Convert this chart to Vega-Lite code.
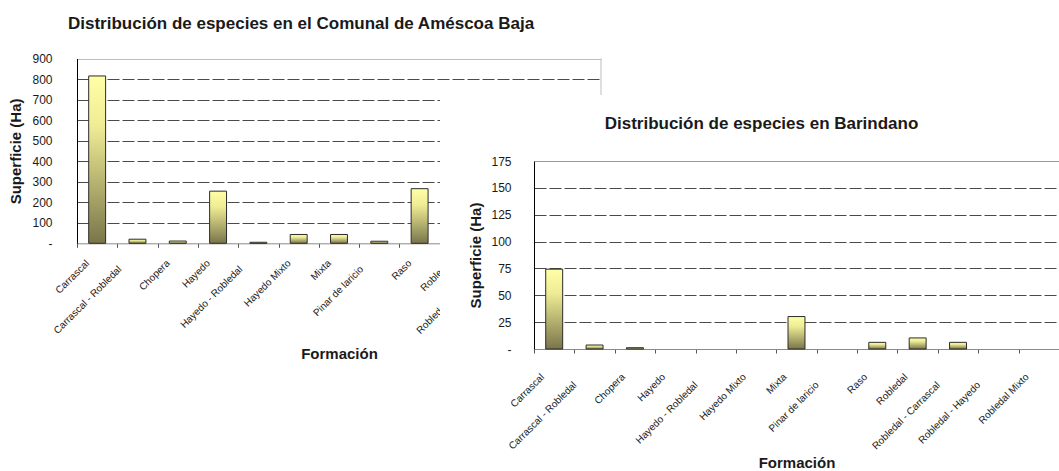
{
  "$schema": "https://vega.github.io/schema/vega-lite/v6.json",
  "background": "white",
  "padding": {"left": 8, "top": 14, "right": 0, "bottom": 0},
  "autosize": {"type": "pad"},
  "spacing": 0,
  "bounds": "flush",
  "config": {
    "font": "Liberation Sans",
    "axis": {"labelFont": "Liberation Sans", "titleFont": "Liberation Sans", "labelColor": "#1a1a1a", "titleColor": "#1a1a1a", "titleFontWeight": "bold", "titleFontSize": 15, "labelFontSize": 10, "labelOverlap": false},
    "title": {"font": "Liberation Sans", "fontWeight": "bold", "fontSize": 17, "color": "#1a1a1a"}
  },
  "datasets": {
    "amescoa": [
      {"formacion": "Carrascal", "superficie": 815},
      {"formacion": "Carrascal - Robledal", "superficie": 20},
      {"formacion": "Chopera", "superficie": 11},
      {"formacion": "Hayedo", "superficie": 254},
      {"formacion": "Hayedo - Robledal", "superficie": 5},
      {"formacion": "Hayedo Mixto", "superficie": 43},
      {"formacion": "Mixta", "superficie": 43},
      {"formacion": "Pinar de laricio", "superficie": 10},
      {"formacion": "Raso", "superficie": 266}
    ],
    "barindano": [
      {"formacion": "Carrascal", "superficie": 74.3},
      {"formacion": "Carrascal - Robledal", "superficie": 3.7},
      {"formacion": "Chopera", "superficie": 1.2},
      {"formacion": "Mixta", "superficie": 30.2},
      {"formacion": "Raso", "superficie": 6.2},
      {"formacion": "Robledal", "superficie": 10.3},
      {"formacion": "Robledal - Carrascal", "superficie": 6.2}
    ]
  },
  "hconcat": [
    {
      "title": {"text": "Distribución de especies en el Comunal de Améscoa Baja", "anchor": "start", "frame": "group", "dx": -9, "offset": 20},
      "width": 363,
      "height": 148.3,
      "view": {"stroke": null, "fill": null},
      "layer": [
        {
          "data": {"name": "amescoa"},
          "mark": {
            "type": "bar",
            "width": {"band": 0.42},
            "fill": {"gradient": "linear", "x1": 0, "y1": 0, "x2": 0, "y2": 1, "stops": [{"offset": 0, "color": "#ffffa6"}, {"offset": 0.3, "color": "#eeec95"}, {"offset": 1, "color": "#7a754a"}]},
            "stroke": "#2b2b2b",
            "strokeWidth": 1
          },
          "encoding": {
            "x": {
              "field": "formacion", "type": "nominal", "sort": null,
              "scale": {"domain": ["Carrascal", "Carrascal - Robledal", "Chopera", "Hayedo", "Hayedo - Robledal", "Hayedo Mixto", "Mixta", "Pinar de laricio", "Raso", "Robledal", "Robledal - Carrascal", "Robledal - Hayedo", "Robledal Mixto"], "range": [0, 524], "paddingInner": 0, "paddingOuter": 0},
              "axis": {"title": "Formación", "labelAngle": -45, "labelAlign": "right", "labelBaseline": "middle", "tickBand": "extent", "ticks": true, "tickSize": 4, "tickColor": "#555", "domainColor": "#8a8a8a",
                "labelPadding": {"condition": {"test": "length(datum.label) > 14", "value": 20}, "value": 14},
                "labelOffset": {"condition": {"test": "length(datum.label) > 14", "value": -18}, "value": -10},
                "titlePadding": 11, "grid": false}
            },
            "y": {
              "field": "superficie", "type": "quantitative",
              "scale": {"domain": [0, 900], "range": [148.3, -36.5]},
              "axis": {"title": "Superficie (Ha)", "values": [0, 100, 200, 300, 400, 500, 600, 700, 800, 900], "labelExpr": "datum.value == 0 ? '-' : datum.label", "labelFontSize": 12, "ticks": false, "domainColor": "#000", "labelPadding": 25, "titlePadding": 8, "grid": true,
                "gridColor": {"condition": {"test": "datum.value >= 900", "value": "#bdbdbd"}, "value": "#4a4a4a"},
                "gridDash": {"condition": {"test": "datum.value >= 900", "value": []}, "value": [12, 3]},
                "gridOpacity": {"condition": {"test": "datum.value == 0", "value": 0}, "value": 1}}
            }
          }
        },
        {
          "data": {"values": [{}]},
          "mark": {"type": "rule", "color": "#bdbdbd", "strokeWidth": 1},
          "encoding": {
            "x": {"datum": "Robledal Mixto", "type": "nominal", "bandPosition": 1,
              "scale": {"domain": ["Carrascal", "Carrascal - Robledal", "Chopera", "Hayedo", "Hayedo - Robledal", "Hayedo Mixto", "Mixta", "Pinar de laricio", "Raso", "Robledal", "Robledal - Carrascal", "Robledal - Hayedo", "Robledal Mixto"], "range": [0, 524], "paddingInner": 0, "paddingOuter": 0},
              "axis": {"title": "Formación", "labelAngle": -45, "labelAlign": "right", "labelBaseline": "middle", "tickBand": "extent", "ticks": true, "tickSize": 4, "tickColor": "#555", "domainColor": "#8a8a8a",
                "labelPadding": {"condition": {"test": "length(datum.label) > 14", "value": 20}, "value": 14},
                "labelOffset": {"condition": {"test": "length(datum.label) > 14", "value": -18}, "value": -10},
                "titlePadding": 11, "grid": false}
            },
            "y": {"datum": 900, "type": "quantitative",
              "scale": {"domain": [0, 900], "range": [148.3, -36.5]},
              "axis": {"title": "Superficie (Ha)", "values": [0, 100, 200, 300, 400, 500, 600, 700, 800, 900], "labelExpr": "datum.value == 0 ? '-' : datum.label", "labelFontSize": 12, "ticks": false, "domainColor": "#000", "labelPadding": 25, "titlePadding": 8, "grid": true,
                "gridColor": {"condition": {"test": "datum.value >= 900", "value": "#bdbdbd"}, "value": "#4a4a4a"},
                "gridDash": {"condition": {"test": "datum.value >= 900", "value": []}, "value": [12, 3]},
                "gridOpacity": {"condition": {"test": "datum.value == 0", "value": 0}, "value": 1}}
            },
            "y2": {"datum": 0}
          }
        }
      ]
    },
    {
      "title": {"text": "Distribución de especies en Barindano", "offset": -37.5, "dx": 12, "anchor": "middle", "frame": "group"},
      "width": 619,
      "height": 376,
      "view": {"fill": "white", "stroke": null},
      "data": {"name": "barindano"},
      "mark": {
        "type": "bar",
        "width": {"band": 0.42},
        "fill": {"gradient": "linear", "x1": 0, "y1": 0, "x2": 0, "y2": 1, "stops": [{"offset": 0, "color": "#ffffa6"}, {"offset": 0.3, "color": "#eeec95"}, {"offset": 1, "color": "#7a754a"}]},
        "stroke": "#2b2b2b",
        "strokeWidth": 1
      },
      "encoding": {
        "x": {
          "field": "formacion", "type": "nominal", "sort": null,
          "scale": {"domain": ["Carrascal", "Carrascal - Robledal", "Chopera", "Hayedo", "Hayedo - Robledal", "Hayedo Mixto", "Mixta", "Pinar de laricio", "Raso", "Robledal", "Robledal - Carrascal", "Robledal - Hayedo", "Robledal Mixto"], "range": [94, 619], "paddingInner": 0, "paddingOuter": 0},
          "axis": {"title": "Formación", "offset": -122, "labelAngle": -45, "labelAlign": "right", "labelBaseline": "middle", "tickBand": "extent", "ticks": true, "tickSize": 4, "tickColor": "#555", "domainColor": "#8a8a8a",
            "labelPadding": {"condition": {"test": "length(datum.label) > 14", "value": 30}, "value": 22},
            "labelOffset": {"condition": {"test": "length(datum.label) > 14", "value": -20}, "value": -12},
            "titlePadding": 5, "grid": false}
        },
        "y": {
          "field": "superficie", "type": "quantitative",
          "scale": {"domain": [0, 175], "range": [254, 66]},
          "axis": {"title": "Superficie (Ha)", "offset": -94, "values": [0, 25, 50, 75, 100, 125, 150, 175], "labelExpr": "datum.value == 0 ? '-' : datum.label", "labelFontSize": 12, "ticks": false, "domainColor": "#000", "labelPadding": 23, "titlePadding": 7, "grid": true,
            "gridColor": {"condition": {"test": "datum.value >= 175", "value": "#9a9a9a"}, "value": "#4a4a4a"},
            "gridDash": {"condition": {"test": "datum.value >= 175", "value": []}, "value": [12, 3]},
            "gridOpacity": {"condition": {"test": "datum.value == 0", "value": 0}, "value": 1}}
        }
      }
    }
  ]
}
